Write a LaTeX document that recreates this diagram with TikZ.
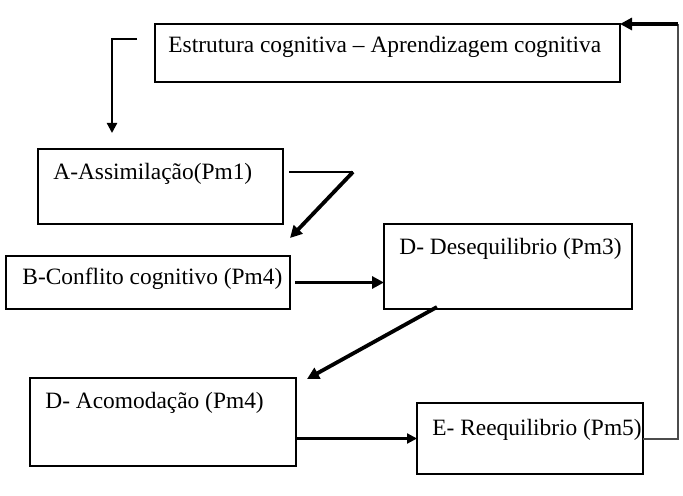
\documentclass[tikz,border=0pt]{standalone}
\usepackage{fontspec}
\setmainfont{Liberation Serif}
\usetikzlibrary{arrows.meta}

\begin{document}
\begin{tikzpicture}[
    x={(0.5pt,0pt)}, y={(0pt,-0.5pt)},
    box/.style={draw, line width=0.9pt, rectangle, anchor=north west, inner sep=0pt, outer sep=0pt},
    txt/.style={anchor=base west, inner sep=0pt, font=\fontsize{11.7}{14}\selectfont},
    arrow/.style={-{Triangle[length=5pt, width=5pt]}, line width=1.1pt},
    heavy/.style={-{Triangle[length=6pt, width=6pt]}, line width=1.9pt}
]
\useasboundingbox (0,0) rectangle (683,496);

% Cognitive structure
\node[box, minimum width=232.5pt, minimum height=29pt] (struct) at (155,24) {};
\node[txt] (structtxt) at ([shift={(13,29)}]struct.north west) {Estrutura cognitiva – Aprendizagem cognitiva};

% Stages
\node[box, minimum width=122.5pt, minimum height=37.5pt] (assim) at (38,149) {};
\node[txt] (assimtxt) at ([shift={(15,31)}]assim.north west) {A-Assimilação(Pm1)};

\node[box, minimum width=142pt, minimum height=26.5pt] (conf) at (6,256) {};
\node[txt] (conftxt) at ([shift={(16,28)}]conf.north west) {B-Conflito cognitivo (Pm4)};

\node[box, minimum width=124pt, minimum height=42.5pt] (deseq) at (384,224) {};
\node[txt] (deseqtxt) at ([shift={(15,31)}]deseq.north west) {D- Desequilibrio (Pm3)};

\node[box, minimum width=133pt, minimum height=44pt] (acom) at (30,378) {};
\node[txt] (acomtxt) at ([shift={(15,30)}]acom.north west) {D- Acomodação (Pm4)};

\node[box, minimum width=113pt, minimum height=35.5pt] (reeq) at (417,403) {};
\node[txt] (reeqtxt) at ([shift={(15,32)}]reeq.north west) {E- Reequilibrio (Pm5)};

% Arrows
\draw[arrow] ([shift={(-18,15)}]struct.north west) -| ([shift={(74,-16)}]assim.north west);
\draw[line width=0.6pt] ([shift={(6,23)}]assim.north east) -- ++(64,0) coordinate (turn);
\draw[heavy] (turn) -- ([shift={(0,-18)}]conf.north east);
\draw[heavy, line width=1.6pt] ([xshift=2.5pt]conf.east) -- (conf.east -| deseq.west);
\draw[heavy] ([shift={(53,-2)}]deseq.south west) -- ([shift={(11,1)}]acom.north east);
\draw[arrow] (acom.east |- reeq.west) -- (reeq.west);
\draw[line width=1pt, black!70] (reeq.east) -- ++(35,0) coordinate (back) -- (back |- struct.north east);
\draw[heavy, line width=1.6pt] (back |- struct.north east) -- (struct.north east);

\end{tikzpicture}
\end{document}
